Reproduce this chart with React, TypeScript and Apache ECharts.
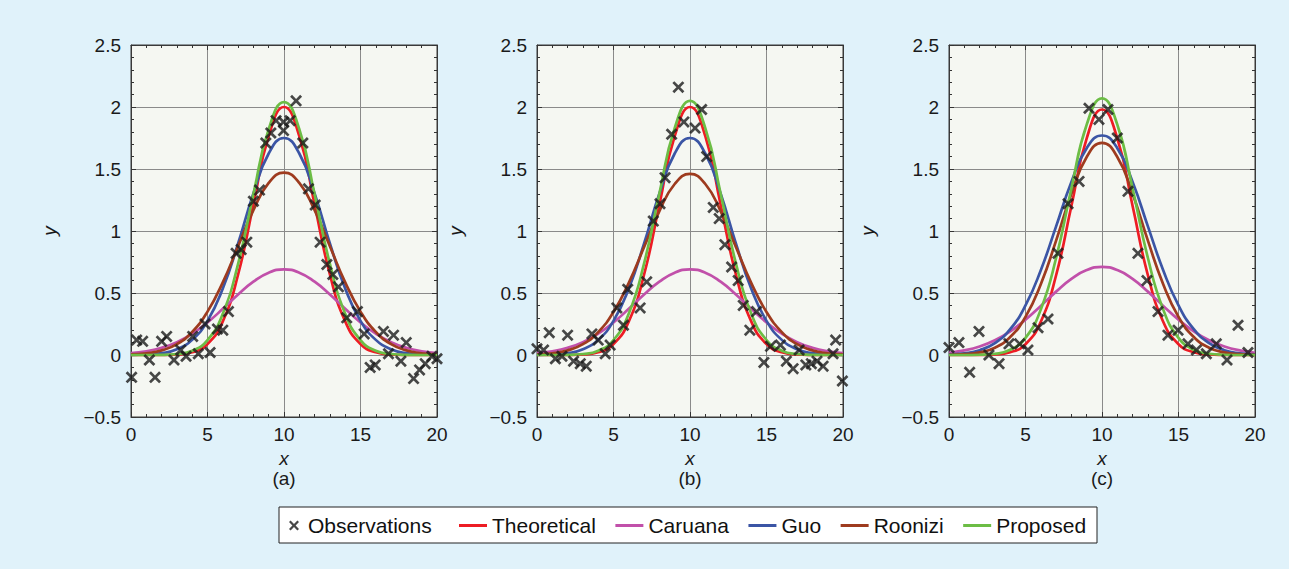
import React, { useEffect, useRef } from "react";
import * as echarts from "echarts";

// ---------- data ----------
const X_POINTS = [0, 1, 2, 3, 4, 5, 6, 7, 8, 9, 10, 11, 12, 13, 14, 15, 16, 17, 18, 19, 20];

// panel (a)
const THEO_A = [0, 0, 0.001, 0.004, 0.022, 0.088, 0.271, 0.649, 1.213, 1.765, 2, 1.765, 1.213, 0.649, 0.271, 0.088, 0.022, 0.004, 0.001, 0, 0];
const CARUANA_A = [0.015, 0.03, 0.058, 0.104, 0.172, 0.263, 0.372, 0.488, 0.591, 0.664, 0.69, 0.664, 0.591, 0.488, 0.372, 0.263, 0.172, 0.104, 0.058, 0.03, 0.015];
const GUO_A = [0.001, 0.004, 0.015, 0.047, 0.122, 0.275, 0.536, 0.899, 1.302, 1.625, 1.75, 1.625, 1.302, 0.899, 0.536, 0.275, 0.122, 0.047, 0.015, 0.004, 0.001];
const ROONIZI_A = [0.005, 0.014, 0.037, 0.088, 0.186, 0.35, 0.586, 0.877, 1.168, 1.388, 1.47, 1.388, 1.168, 0.877, 0.586, 0.35, 0.186, 0.088, 0.037, 0.014, 0.005];
const PROPOSED_A = [0, 0, 0.001, 0.008, 0.034, 0.12, 0.333, 0.735, 1.296, 1.821, 2.04, 1.821, 1.296, 0.735, 0.333, 0.12, 0.034, 0.008, 0.001, 0, 0];
const OBS_A_X = [0.04, 0.37, 0.76, 1.2, 1.57, 2.0, 2.33, 2.81, 3.25, 3.6, 4.03, 4.4, 4.84, 5.17, 5.65, 6.0, 6.37, 6.87, 7.2, 7.57, 8.0, 8.4, 8.81, 9.14, 9.48, 9.97, 9.97, 10.4, 10.79, 11.23, 11.6, 12.04, 12.36, 12.8, 13.19, 13.56, 14.1, 14.8, 15.24, 15.63, 15.96, 16.5, 16.83, 17.16, 17.64, 17.99, 18.47, 18.86, 19.23, 19.67, 20.0];
const OBS_A_Y = [-0.18, 0.12, 0.11, -0.04, -0.18, 0.11, 0.15, -0.04, 0.04, -0.01, 0.15, 0.01, 0.25, 0.02, 0.21, 0.2, 0.35, 0.82, 0.85, 0.91, 1.24, 1.33, 1.71, 1.79, 1.89, 1.88, 1.81, 1.89, 2.05, 1.71, 1.34, 1.21, 0.91, 0.73, 0.65, 0.55, 0.3, 0.35, 0.17, -0.1, -0.08, 0.19, 0.01, 0.16, -0.05, 0.1, -0.19, -0.12, -0.07, -0.01, -0.03];

// panel (b)
const THEO_B = [0, 0, 0.001, 0.004, 0.022, 0.088, 0.271, 0.649, 1.213, 1.765, 2, 1.765, 1.213, 0.649, 0.271, 0.088, 0.022, 0.004, 0.001, 0, 0];
const CARUANA_B = [0.015, 0.03, 0.058, 0.104, 0.172, 0.263, 0.372, 0.488, 0.591, 0.664, 0.69, 0.664, 0.591, 0.488, 0.372, 0.263, 0.172, 0.104, 0.058, 0.03, 0.015];
const GUO_B = [0.001, 0.004, 0.015, 0.047, 0.122, 0.275, 0.536, 0.899, 1.302, 1.625, 1.75, 1.625, 1.302, 0.899, 0.536, 0.275, 0.122, 0.047, 0.015, 0.004, 0.001];
const ROONIZI_B = [0.005, 0.014, 0.037, 0.087, 0.185, 0.347, 0.582, 0.871, 1.16, 1.379, 1.46, 1.379, 1.16, 0.871, 0.582, 0.347, 0.185, 0.087, 0.037, 0.014, 0.005];
const PROPOSED_B = [0, 0, 0.001, 0.008, 0.035, 0.121, 0.334, 0.739, 1.303, 1.83, 2.05, 1.83, 1.303, 0.739, 0.334, 0.121, 0.035, 0.008, 0.001, 0, 0];
const OBS_B_X = [0.0, 0.43, 0.8, 1.2, 1.63, 2.0, 2.39, 2.83, 3.22, 3.59, 4.0, 4.46, 4.78, 5.22, 5.65, 5.93, 6.74, 7.17, 7.6, 8.04, 8.37, 8.8, 9.24, 9.6, 10.33, 10.76, 11.09, 11.52, 11.91, 12.28, 12.72, 13.15, 13.48, 13.91, 14.35, 14.83, 15.26, 15.91, 16.3, 16.74, 17.13, 17.57, 17.93, 18.3, 18.7, 19.35, 19.52, 19.96];
const OBS_B_Y = [0.05, 0.04, 0.18, -0.03, -0.01, 0.16, -0.05, -0.07, -0.09, 0.17, 0.12, 0.01, 0.08, 0.38, 0.24, 0.53, 0.38, 0.59, 1.08, 1.22, 1.43, 1.78, 2.16, 1.88, 1.83, 1.98, 1.6, 1.19, 1.1, 0.89, 0.71, 0.6, 0.4, 0.2, 0.35, -0.06, 0.07, 0.08, -0.05, -0.11, 0.04, -0.08, -0.07, -0.05, -0.09, 0.01, 0.12, -0.21];

// panel (c)
const THEO_C = [0, 0, 0.001, 0.004, 0.022, 0.087, 0.268, 0.643, 1.201, 1.747, 1.98, 1.747, 1.201, 0.643, 0.268, 0.087, 0.022, 0.004, 0.001, 0, 0];
const CARUANA_C = [0.018, 0.037, 0.069, 0.119, 0.191, 0.285, 0.396, 0.511, 0.614, 0.685, 0.71, 0.685, 0.614, 0.511, 0.396, 0.285, 0.191, 0.119, 0.069, 0.037, 0.018];
const GUO_C = [0.005, 0.014, 0.039, 0.096, 0.208, 0.4, 0.684, 1.037, 1.395, 1.668, 1.77, 1.668, 1.395, 1.037, 0.684, 0.4, 0.208, 0.096, 0.039, 0.014, 0.005];
const ROONIZI_C = [0.002, 0.007, 0.021, 0.059, 0.145, 0.308, 0.571, 0.922, 1.3, 1.597, 1.71, 1.597, 1.3, 0.922, 0.571, 0.308, 0.145, 0.059, 0.021, 0.007, 0.002];
const PROPOSED_C = [0, 0, 0.002, 0.01, 0.042, 0.138, 0.367, 0.782, 1.343, 1.858, 2.07, 1.858, 1.343, 0.782, 0.367, 0.138, 0.042, 0.01, 0.002, 0, 0];
const OBS_C_X = [0.0, 0.65, 1.35, 1.96, 2.61, 3.27, 3.92, 4.62, 5.16, 5.82, 6.47, 7.12, 7.78, 8.5, 9.15, 9.8, 10.39, 11.0, 11.7, 12.35, 12.94, 13.66, 14.31, 14.97, 15.62, 16.17, 16.82, 17.47, 18.17, 18.89, 19.54];
const OBS_C_Y = [0.06, 0.1, -0.14, 0.19, 0.0, -0.07, 0.09, 0.09, 0.04, 0.22, 0.29, 0.82, 1.22, 1.4, 1.99, 1.9, 1.98, 1.75, 1.32, 0.82, 0.6, 0.35, 0.16, 0.2, 0.09, 0.04, 0.01, 0.09, -0.04, 0.24, 0.02];

const PANEL_LABELS = ["(a)", "(b)", "(c)"];
const SERIES_NAMES = ["Theoretical", "Caruana", "Guo", "Roonizi", "Proposed"];
const X_TICKS = { min: 0, max: 20, interval: 5 };
const Y_TICKS = { min: -0.5, max: 2.5, interval: 0.5 };

// ---------- styles / layout ----------
const COLORS: Record<string, string> = {
  Theoretical: "#ed1c24",
  Caruana: "#c150aa",
  Guo: "#3b55a5",
  Roonizi: "#9e3b1f",
  Proposed: "#6cbd45",
};
const FONT = "'Liberation Sans', Arial, Helvetica, sans-serif";
const BG = "#e0f2fa";
const PLOT_BG = "#f5f7f2";
const GRIDS = [
  { left: 131, top: 45, width: 306, height: 372 },
  { left: 537, top: 45, width: 306, height: 372 },
  { left: 949, top: 45, width: 306, height: 372 },
];
const X_MARK = "path://M0,1.6L1.6,0L5,3.4L8.4,0L10,1.6L6.6,5L10,8.4L8.4,10L5,6.6L1.6,10L0,8.4L3.4,5Z";

const PANEL_DATA = [
  { curves: [THEO_A, CARUANA_A, GUO_A, ROONIZI_A, PROPOSED_A], ox: OBS_A_X, oy: OBS_A_Y },
  { curves: [THEO_B, CARUANA_B, GUO_B, ROONIZI_B, PROPOSED_B], ox: OBS_B_X, oy: OBS_B_Y },
  { curves: [THEO_C, CARUANA_C, GUO_C, ROONIZI_C, PROPOSED_C], ox: OBS_C_X, oy: OBS_C_Y },
];

function fmtY(v: number) {
  return v < 0 ? "\u2212" + Math.abs(v) : String(v);
}

function buildOption() {
  const grid: any[] = [];
  const xAxis: any[] = [];
  const yAxis: any[] = [];
  const series: any[] = [];
  const graphic: any[] = [];
  const tickColor = "#333";

  GRIDS.forEach((g, i) => {
    grid.push({
      ...g,
      show: true,
      backgroundColor: PLOT_BG,
      borderColor: "#3a3a3a",
      borderWidth: 1,
    });
    const common = {
      type: "value",
      gridIndex: i,
      axisLine: { show: true, onZero: false, lineStyle: { color: "#3a3a3a" } },
      axisTick: { show: true, inside: true, length: 5, lineStyle: { color: tickColor } },
      minorTick: { show: true, splitNumber: 5, length: 3, lineStyle: { color: tickColor } },
    };
    xAxis.push({
      ...common,
      ...X_TICKS,
      position: "bottom",
      splitLine: { show: true, lineStyle: { color: "#8a8a8a", width: 1 } },
      axisLabel: { fontSize: 19, color: "#1a1a1a", margin: 8, fontFamily: FONT },
      name: "x",
      nameLocation: "middle",
      nameGap: 31,
      nameTextStyle: { fontSize: 19, fontStyle: "italic", color: "#1a1a1a", fontFamily: FONT },
    });
    xAxis.push({
      ...common,
      ...X_TICKS,
      position: "top",
      splitLine: { show: false },
      axisLabel: { show: false },
    });
    yAxis.push({
      ...common,
      ...Y_TICKS,
      position: "left",
      splitLine: { show: true, lineStyle: { color: "#8a8a8a", width: 1 } },
      axisLabel: { fontSize: 19, color: "#1a1a1a", margin: 10, fontFamily: FONT, formatter: fmtY },
      name: "y",
      nameLocation: "middle",
      nameRotate: 90,
      nameGap: 72,
      nameTextStyle: { fontSize: 19, fontStyle: "italic", color: "#1a1a1a", fontFamily: FONT },
    });
    yAxis.push({
      ...common,
      ...Y_TICKS,
      position: "right",
      splitLine: { show: false },
      axisLabel: { show: false },
    });

    const pd = PANEL_DATA[i];
    pd.curves.forEach((arr, k) => {
      const name = SERIES_NAMES[k];
      series.push({
        type: "line",
        name,
        xAxisIndex: 2 * i,
        yAxisIndex: 2 * i,
        data: X_POINTS.map((x, j) => [x, arr[j]]),
        smooth: 0.5,
        symbol: "none",
        showSymbol: false,
        lineStyle: { color: COLORS[name], width: 2.7 },
        itemStyle: { color: COLORS[name] },
        z: 3,
      });
    });
    series.push({
      type: "scatter",
      name: "Observations",
      xAxisIndex: 2 * i,
      yAxisIndex: 2 * i,
      data: pd.ox.map((x, j) => [x, pd.oy[j]]),
      symbol: X_MARK,
      symbolSize: 12,
      itemStyle: { color: "#1a1a1a" },
      z: 4,
    });

    graphic.push({
      type: "text",
      x: g.left + g.width / 2,
      y: 478,
      style: {
        text: PANEL_LABELS[i],
        fontSize: 19,
        fontFamily: FONT,
        fill: "#1a1a1a",
        textAlign: "center",
        textVerticalAlign: "middle",
      },
    });
  });

  graphic.push({
    type: "rect",
    shape: { x: 279, y: 507, width: 818, height: 36 },
    style: { fill: "#ffffff", stroke: "#222", lineWidth: 1 },
    z: 0,
  });

  return {
    animation: false,
    backgroundColor: BG,
    grid,
    xAxis,
    yAxis,
    series,
    graphic,
    legend: [
      {
        data: ["Observations"],
        left: 284,
        top: 510,
        itemWidth: 18,
        itemHeight: 10,
        textStyle: { fontSize: 21, color: "#111", fontFamily: FONT },
        z: 10,
      },
      {
        data: SERIES_NAMES,
        left: 454,
        top: 510,
        icon: "rect",
        itemWidth: 28,
        itemHeight: 3,
        itemGap: 19.5,
        textStyle: { fontSize: 21, color: "#111", fontFamily: FONT },
        z: 10,
      },
    ],
  };
}

export default function App() {
  const ref = useRef<HTMLDivElement>(null);
  useEffect(() => {
    document.body.style.margin = "0";
    if (!ref.current) return;
    const chart = echarts.init(ref.current, undefined, { renderer: "svg" });
    chart.setOption(buildOption() as any);
    return () => chart.dispose();
  }, []);
  return <div ref={ref} style={{ width: 1289, height: 569, background: BG }} />;
}
